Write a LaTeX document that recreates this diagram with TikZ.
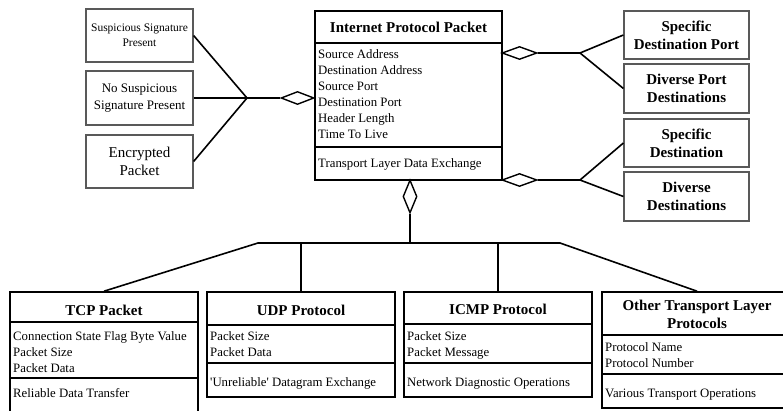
\documentclass[tikz,border=0pt]{standalone}
\usepackage{fontspec}
\setmainfont{Liberation Serif}
\usetikzlibrary{shapes.geometric}
\tikzset{
  cls/.style={draw=black, line width=1.6pt, inner sep=0pt},
  divider/.style={line width=1.6pt, black},
  side/.style={draw=black!65, line width=1.2pt, inner sep=0pt, align=center},
  conn/.style={line width=1.6pt, black},
  agg/.style={draw=black, line width=1.4pt, fill=white, shape=diamond, inner sep=0pt},
  hdr/.style={font=\fontsize{15}{18}\selectfont\bfseries, inner sep=0pt, align=center},
  attr/.style={font=\fontsize{12.8}{16}\selectfont, inner sep=0pt, align=left, anchor=north west},
  oper/.style={font=\fontsize{12.8}{16}\selectfont, inner sep=0pt, anchor=base west},
}
\begin{document}
\begin{tikzpicture}[x=1pt,y=-1pt]
\useasboundingbox (0,0) rectangle (783,411);
\clip (0,0) rectangle (783,411);
\fill[white] (0,0) rectangle (783,411);

% ---------- Internet Protocol Packet ----------
\node[cls, minimum width=187pt, minimum height=169pt] (ip) at (408.5,95.5) {};
\node[hdr, anchor=base] (iph) at (408.5,33) {Internet Protocol Packet};
\draw[divider] (ip.west |- 0,43) -- (ip.east |- 0,43);
\draw[divider] (ip.west |- 0,147) -- (ip.east |- 0,147);
\node[attr] (ipa) at (318,49.3) {Source Address\\Destination Address\\Source Port\\Destination Port\\Header Length\\Time To Live};
\node[oper] (ipo) at (318,168) {Transport Layer Data Exchange};

% ---------- left boxes ----------
\node[side, minimum width=107pt, minimum height=53pt, font=\fontsize{11.5}{15}\selectfont] (s1) at (139.5,35.5) {Suspicious Signature\\Present};
\node[side, minimum width=107pt, minimum height=54pt, font=\fontsize{13}{17}\selectfont] (s2) at (139.5,98) {No Suspicious\\Signature Present};
\node[side, minimum width=107pt, minimum height=53pt, font=\fontsize{15}{18}\selectfont] (s3) at (139.5,161.5) {Encrypted\\Packet};

% ---------- right boxes ----------
\node[side, minimum width=125pt, minimum height=48pt, font=\fontsize{15}{18}\selectfont\bfseries] (r1) at (686.5,35) {Specific\\Destination Port};
\node[side, minimum width=125pt, minimum height=49pt, font=\fontsize{15}{18}\selectfont\bfseries] (r2) at (686.5,88.5) {Diverse Port\\Destinations};
\node[side, minimum width=125pt, minimum height=48pt, font=\fontsize{15}{18}\selectfont\bfseries] (r3) at (686.5,143) {Specific\\Destination};
\node[side, minimum width=125pt, minimum height=49pt, font=\fontsize{15}{18}\selectfont\bfseries] (r4) at (686.5,196.5) {Diverse\\Destinations};

% ---------- TCP ----------
\node[cls, minimum width=188pt, minimum height=160pt] (tcp) at (104,372) {};
\node[hdr, anchor=base] (tcph) at (104,315) {TCP Packet};
\draw[divider] (tcp.west |- 0,322) -- (tcp.east |- 0,322);
\draw[divider] (tcp.west |- 0,378) -- (tcp.east |- 0,378);
\node[attr] (tcpa) at (13,331.3) {Connection State Flag Byte Value\\Packet Size\\Packet Data};
\node[oper] (tcpo) at (13,397) {Reliable Data Transfer};

% ---------- UDP ----------
\node[cls, minimum width=188pt, minimum height=105pt] (udp) at (301,344.5) {};
\node[hdr, anchor=base] (udph) at (301,315) {UDP Protocol};
\draw[divider] (udp.west |- 0,325) -- (udp.east |- 0,325);
\draw[divider] (udp.west |- 0,363) -- (udp.east |- 0,363);
\node[attr] (udpa) at (210,331.3) {Packet Size\\Packet Data};
\node[oper] (udpo) at (210,386) {\textquotesingle Unreliable\textquotesingle{} Datagram Exchange};

% ---------- ICMP ----------
\node[cls, minimum width=188pt, minimum height=105pt] (icmp) at (498,344.5) {};
\node[hdr, anchor=base] (icmph) at (498,314) {ICMP Protocol};
\draw[divider] (icmp.west |- 0,324) -- (icmp.east |- 0,324);
\draw[divider] (icmp.west |- 0,363) -- (icmp.east |- 0,363);
\node[attr] (icmpa) at (407,331.3) {Packet Size\\Packet Message};
\node[oper] (icmpo) at (407,386) {Network Diagnostic Operations};

% ---------- Other ----------
\node[cls, minimum width=190pt, minimum height=116pt] (other) at (697,350) {};
\node[hdr, anchor=center] (otherh) at (697,314.5) {Other Transport Layer\\Protocols};
\draw[divider] (other.west |- 0,335) -- (other.east |- 0,335);
\draw[divider] (other.west |- 0,374) -- (other.east |- 0,374);
\node[attr] (othera) at (605,342.3) {Protocol Name\\Protocol Number};
\node[oper] (othero) at (605,397) {Various Transport Operations};

% ---------- aggregation diamonds ----------
\node[agg, minimum width=33pt, minimum height=13pt] (dL) at (297.5,98) {};
\node[agg, minimum width=35pt, minimum height=13pt] (dT) at (519.5,53) {};
\node[agg, minimum width=35pt, minimum height=13pt] (dB) at (519.5,180) {};
\node[agg, minimum width=14pt, minimum height=33pt] (dV) at (410,196.5) {};

% ---------- junctions ----------
\coordinate (jL) at (247,98);
\coordinate (jT) at (580,53);
\coordinate (jB) at (580,180);
\coordinate (bL) at (258,243);
\coordinate (bM) at (410,243);
\coordinate (bR) at (560,243);

% ---------- connectors ----------
\draw[conn] (s1.east) -- (jL);
\draw[conn] (s2.east) -- (jL);
\draw[conn] (s3.east) -- (jL);
\draw[conn] (jL) -- (dL.west);
\draw[conn] (dT.east) -- (jT) -- (r1.west);
\draw[conn] (jT) -- (r2.west);
\draw[conn] (dB.east) -- (jB) -- (r3.west);
\draw[conn] (jB) -- (r4.west);
\draw[conn] (dV.south) -- (bM);
\draw[conn, line join=round] (tcp.north) -- (bL) -- (bR) -- (other.north);
\draw[conn] (udp.north) -- (udp.north |- bM);
\draw[conn] (icmp.north) -- (icmp.north |- bM);
\end{tikzpicture}
\end{document}
